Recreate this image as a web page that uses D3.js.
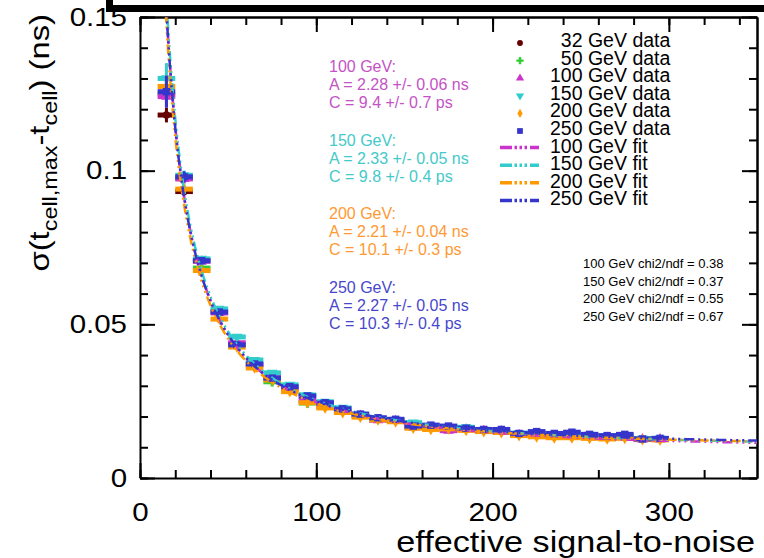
<!DOCTYPE html>
<html>
<head>
<meta charset="utf-8">
<script src="https://cdn.jsdelivr.net/npm/d3@7"></script>
<style>
body { margin: 0; background: #fff; }
svg { display: block; font-family: "Liberation Sans", Arial, sans-serif; }
</style>
</head>
<body>
<script>
// bin centres (effective S/N) and measured time resolution (ns)
var snr = [15,25,35,45,55,65,75,85,95,105,115,125,135,145,155,165,175,185,195,205,215,225,235,245,255,265,275,285,295];
var snr32 = [15, 25];
var snr50 = [15, 25, 35, 75, 95];

var sigma32 = [0.1181, 0.0932];
var sigma50 = [0.1249, 0.0975, 0.0683, 0.0313, 0.0244];
var sigma100 = [0.1241,0.0973,0.0705,0.0537,0.0440,0.0368,0.0330,0.0290,0.0252,0.0234,0.0216,0.0203,0.0188,0.0186,0.0165,0.0163,0.0154,0.0158,0.0153,0.0152,0.0140,0.0140,0.0136,0.0137,0.0133,0.0131,0.0133,0.0126,0.0126];
var sigma150 = [0.1300,0.0985,0.0713,0.0550,0.0459,0.0384,0.0342,0.0303,0.0270,0.0248,0.0228,0.0207,0.0194,0.0189,0.0180,0.0170,0.0166,0.0165,0.0157,0.0156,0.0146,0.0147,0.0143,0.0145,0.0140,0.0136,0.0139,0.0128,0.0128];
var sigma200 = [0.1274,0.0940,0.0675,0.0517,0.0426,0.0358,0.0319,0.0281,0.0245,0.0228,0.0213,0.0198,0.0189,0.0183,0.0162,0.0158,0.0160,0.0155,0.0151,0.0148,0.0138,0.0134,0.0131,0.0131,0.0129,0.0127,0.0129,0.0125,0.0124];
var sigma250 = [0.1257,0.0980,0.0707,0.0540,0.0433,0.0371,0.0325,0.0297,0.0267,0.0245,0.0225,0.0208,0.0196,0.0191,0.0169,0.0172,0.0169,0.0162,0.0158,0.0158,0.0145,0.0151,0.0145,0.0149,0.0142,0.0138,0.0142,0.0127,0.0129];

// vertical errors of the first bins (rest hidden under the bars)
var err32 = [0.0024, 0.0012];
var err50 = [0.0030, 0.0015];
var err100 = [0.0035, 0.0015];
var err150 = [0.0050, 0.0015];
var err200 = [0.0035, 0.0015];
var err250 = [0.0052, 0.0018];
var binHalfWidth = 5;

// fit results: sigma = sqrt((A/snr)^2 + C^2)
var fitEnergies = [100, 150, 200, 250];
var fitA = [2.28, 2.33, 2.21, 2.27];      // ns
var fitAErr = [0.06, 0.05, 0.04, 0.05];
var fitC = [9.4, 9.8, 10.1, 10.3];        // ps
var fitCErr = [0.7, 0.4, 0.3, 0.4];
var chi2ndf = [0.38, 0.37, 0.55, 0.67];

var xTicks = [0, 100, 200, 300];
var yTicks = [0, 0.05, 0.1, 0.15];

var width = 764, height = 558;

var svg = d3.select("body").append("svg")
    .attr("width", width)
    .attr("height", height);

var xScale = d3.scaleLinear().domain([0, 350]).range([140, 757]);
var yScale = d3.scaleLinear().domain([0, 0.15]).range([478, 17]);

svg.append("clipPath").attr("id", "plot")
  .append("rect")
    .attr("x", 140).attr("y", 17)
    .attr("width", 617).attr("height", 461);

// piece of the box above the frame
svg.append("path")
    .attr("d", "M109.5,0V8.5H764")
    .attr("fill", "none")
    .attr("stroke", "#000")
    .attr("stroke-width", 7);

// axes, ticks pointing inside
function styleAxis(g) {
  g.selectAll("path, line").attr("stroke", "#000").attr("stroke-width", 2);
  g.selectAll("text").attr("fill", "#000");
}
var minorX = d3.range(0, 351, 20);
var minorY = d3.range(0, 0.1501, 0.01);

// bottom
svg.append("g")
    .attr("transform", "translate(0,478)")
    .call(d3.axisBottom(xScale).tickValues(minorX).tickSizeInner(-8).tickSizeOuter(0).tickFormat(""))
    .call(styleAxis);
var xg = svg.append("g")
    .attr("transform", "translate(0,478)")
    .call(d3.axisBottom(xScale).tickValues(xTicks).tickSizeInner(-15).tickSizeOuter(0).tickPadding(25))
    .call(styleAxis);
xg.select(".domain").remove();
xg.selectAll("text")
    .attr("font-size", 25)
    .attr("font-family", "Liberation Sans, Arial, sans-serif")
    .attr("transform", "scale(1.18,1)");

// top
svg.append("g")
    .attr("transform", "translate(0,17)")
    .call(d3.axisTop(xScale).tickValues(minorX).tickSizeInner(-8).tickSizeOuter(0).tickFormat(""))
    .call(styleAxis);
svg.append("g")
    .attr("transform", "translate(0,17)")
    .call(d3.axisTop(xScale).tickValues(xTicks).tickSizeInner(-15).tickSizeOuter(0).tickFormat(""))
    .call(styleAxis);

// left
svg.append("g")
    .attr("transform", "translate(140,0)")
    .call(d3.axisLeft(yScale).tickValues(minorY).tickSizeInner(-8).tickSizeOuter(0).tickFormat(""))
    .call(styleAxis);
var yg = svg.append("g")
    .attr("transform", "translate(140,0)")
    .call(d3.axisLeft(yScale).tickValues(yTicks).tickSizeInner(-15).tickSizeOuter(0).tickPadding(11)
      .tickFormat(function(d) { return d === 0 ? "0" : String(d); }))
    .call(styleAxis);
yg.select(".domain").remove();
yg.selectAll("text")
    .attr("font-size", 25)
    .attr("font-family", "Liberation Sans, Arial, sans-serif")
    .attr("transform", "scale(1.18,1)");

// right
svg.append("g")
    .attr("transform", "translate(757,0)")
    .call(d3.axisRight(yScale).tickValues(minorY).tickSizeInner(-8).tickSizeOuter(0).tickFormat(""))
    .call(styleAxis);
svg.append("g")
    .attr("transform", "translate(757,0)")
    .call(d3.axisRight(yScale).tickValues(yTicks).tickSizeInner(-15).tickSizeOuter(0).tickFormat(""))
    .call(styleAxis);

// axis titles
svg.append("text")
    .attr("transform", "translate(755,552) scale(1.18,1)")
    .attr("text-anchor", "end")
    .attr("font-size", 29)
    .text("effective signal-to-noise");

var yt = svg.append("text")
    .attr("transform", "translate(49,14) rotate(-90) scale(1.17,1)")
    .attr("text-anchor", "end")
    .attr("font-size", 28);
yt.append("tspan").text("\u03c3(t");
yt.append("tspan").attr("font-size", 20).attr("dy", 8).text("cell,max");
yt.append("tspan").attr("dy", -8).text("-t");
yt.append("tspan").attr("font-size", 20).attr("dy", 8).text("cell");
yt.append("tspan").attr("dy", -8).text(") (ns)");

// data series
var series = [
  {name: "32 GeV data", x: snr32, y: sigma32, err: err32, color: "#660000", symbol: d3.symbolCircle, size: 45},
  {name: "50 GeV data", x: snr50, y: sigma50, err: err50, color: "#33cc33", symbol: d3.symbolCross, size: 50},
  {name: "100 GeV data", x: snr, y: sigma100, err: err100, color: "#cc33cc", symbol: d3.symbolTriangle, size: 50},
  {name: "150 GeV data", x: snr, y: sigma150, err: err150, color: "#33cccc", symbol: d3.symbolTriangle, size: 50, flip: true},
  {name: "200 GeV data", x: snr, y: sigma200, err: err200, color: "#ff9900", symbol: d3.symbolDiamond, size: 40},
  {name: "250 GeV data", x: snr, y: sigma250, err: err250, color: "#3535cc", symbol: d3.symbolSquare, size: 55}
];

var plot = svg.append("g").attr("clip-path", "url(#plot)");

series.forEach(function(s) {
  var pts = s.x.map(function(x, i) { return {x: x, y: s.y[i], e: s.err[i] || 0}; });
  var g = plot.append("g");
  g.selectAll(".ex").data(pts).enter().append("line")
      .attr("x1", function(d) { return xScale(d.x - binHalfWidth); })
      .attr("x2", function(d) { return xScale(d.x + binHalfWidth); })
      .attr("y1", function(d) { return yScale(d.y); })
      .attr("y2", function(d) { return yScale(d.y); })
      .attr("stroke", s.color)
      .attr("stroke-width", 5);
  g.selectAll(".ey").data(pts.filter(function(d) { return d.e > 0; })).enter().append("line")
      .attr("x1", function(d) { return xScale(d.x); })
      .attr("x2", function(d) { return xScale(d.x); })
      .attr("y1", function(d) { return yScale(d.y - d.e); })
      .attr("y2", function(d) { return yScale(d.y + d.e); })
      .attr("stroke", s.color)
      .attr("stroke-width", 3);
  g.selectAll("path").data(pts).enter().append("path")
      .attr("d", d3.symbol().type(s.symbol).size(s.size))
      .attr("transform", function(d) {
        return "translate(" + xScale(d.x) + "," + yScale(d.y) + ")" + (s.flip ? " rotate(180)" : "");
      })
      .attr("fill", s.color);
});

// fit curves
var fitColors = ["#cc33cc", "#33cccc", "#ff9900", "#3535cc"];
var dash = "10,4,2,4,2,4,2,4";
var line = d3.line()
    .x(function(d) { return xScale(d[0]); })
    .y(function(d) { return yScale(d[1]); });

fitEnergies.forEach(function(e, k) {
  var pts = d3.range(13, 351, 0.5).map(function(s) {
    var a = fitA[k] / s, c = fitC[k] / 1000;
    return [s, Math.sqrt(a * a + c * c)];
  });
  plot.append("path")
      .attr("d", line(pts))
      .attr("fill", "none")
      .attr("stroke", fitColors[k])
      .attr("stroke-width", 2.5)
      .attr("stroke-dasharray", dash)
      .attr("stroke-dashoffset", k * 3);
});

// fit parameter annotations
var textColors = ["#c552c5", "#45c9c9", "#ff9933", "#4747cc"];
fitEnergies.forEach(function(e, k) {
  var y0 = 72 + k * 73.7;
  var lines = [
    e + " GeV:",
    "A = " + fitA[k].toFixed(2) + " +/- " + fitAErr[k].toFixed(2) + " ns",
    "C = " + fitC[k].toFixed(1) + " +/- " + fitCErr[k].toFixed(1) + " ps"
  ];
  lines.forEach(function(t, j) {
    svg.append("text")
        .attr("x", 329)
        .attr("y", y0 + j * 18)
        .attr("font-size", 16)
        .attr("fill", textColors[k])
        .text(t);
  });
  svg.append("text")
      .attr("x", 583)
      .attr("y", 268 + k * 17.6)
      .attr("font-size", 13)
      .attr("fill", "#000")
      .text(e + " GeV chi2/ndf = " + chi2ndf[k].toFixed(2));
});

// legend
var legend = svg.append("g");
series.forEach(function(s, i) {
  var yb = 47 + i * 17.6;
  legend.append("path")
      .attr("d", d3.symbol().type(s.symbol).size(s.size * 0.6))
      .attr("transform", "translate(520," + (yb - 4) + ")" + (s.flip ? " rotate(180)" : ""))
      .attr("fill", s.color);
  legend.append("text")
      .attr("x", 550)
      .attr("y", yb)
      .attr("font-size", 19.5)
      .attr("xml:space", "preserve")
      .style("white-space", "pre")
      .text((s.name.length < 12 ? "  " : "") + s.name);
});
fitEnergies.forEach(function(e, k) {
  var yb = 47 + (k + 6) * 17.6;
  legend.append("line")
      .attr("x1", 500).attr("x2", 539)
      .attr("y1", yb - 5).attr("y2", yb - 5)
      .attr("stroke", fitColors[k])
      .attr("stroke-width", 3.5)
      .attr("stroke-dasharray", "12,2.5,2.5,2.5,2.5,2.5,2.5,3");
  legend.append("text")
      .attr("x", 550)
      .attr("y", yb)
      .attr("font-size", 19.5)
      .text(e + " GeV fit");
});
</script>
</body>
</html>
